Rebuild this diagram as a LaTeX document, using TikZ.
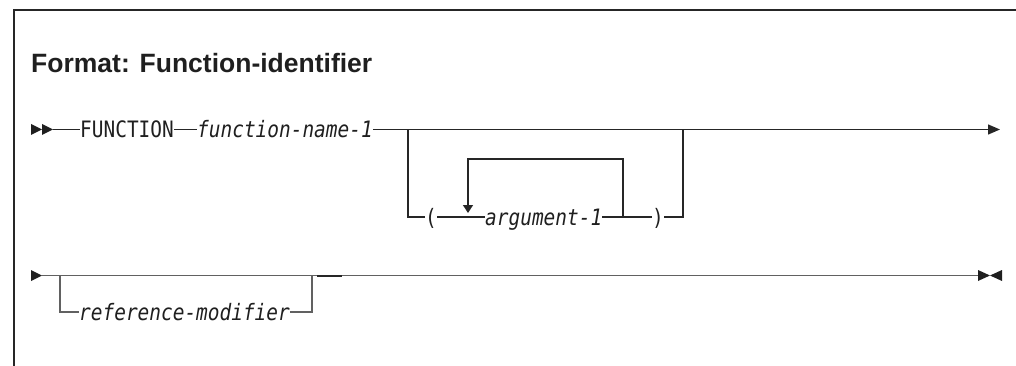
\documentclass[tikz,border=0pt]{standalone}
\usepackage{fontspec}
\setmainfont{Liberation Sans}
\newfontfamily\synfont[FakeStretch=0.86]{DejaVu Sans Mono}
\usetikzlibrary{arrows.meta}
\begin{document}
\begin{tikzpicture}[x=1pt,y=-1pt,
  syn/.style={font=\synfont\fontsize{22.6}{26}\selectfont, inner sep=0pt, anchor=base west, text=black!88},
  synit/.style={syn, font=\synfont\itshape\fontsize{22.6}{26}\selectfont},
  rail/.style={line width=1.3pt, draw=black!85},
  rail2/.style={line width=1.5pt, draw=black!62},
  tip/.style={fill=black!88},
  endtip/.style={-{Triangle[length=12pt,width=10pt]}}]
\useasboundingbox (0,0) rectangle (1016,366);
% frame
\draw[line width=1.3pt, black!85] (14,366) -- (14,10) -- (1016,10);
\node[anchor=base west, inner sep=0pt, text=black!88, font=\bfseries\fontsize{26.5}{30}\selectfont] (title) at (31,73) {Format: Function-identifier};
% ---- line 1
\fill[tip] (31,124) -- (42,129.5) -- (31,135) -- cycle;
\fill[tip] (42,124) -- (53,129.5) -- (42,135) -- cycle;
\coordinate (s1) at (53,129.5);
\coordinate (j1) at (408,129.5);
\coordinate (j2) at (683,129.5);
\coordinate (e1) at (1000,129.5);
\node[syn] (fn) at (80,137.8) {FUNCTION};
\node[synit] (fname) at (197,137.8) {function-name-1};
\draw[rail] (s1) -- (fn.west |- s1);
\draw[rail] (fn.east |- s1) -- (fname.west |- s1);
\draw[rail, endtip] (fname.east |- s1) -- (e1);
% optional argument branch
\coordinate (b1) at (408,217);
\coordinate (b2) at (683,217);
\coordinate (la) at (468,213);
\coordinate (lb) at (623,217);
\node[syn] (lp) at (425,225.3) {(};
\node[synit] (arg) at (485,225.3) {argument-1};
\node[syn] (rp) at (652,225.3) {)};
\draw[rail] (j1) -- (b1) -- (lp.west |- b1);
\draw[rail] (lp.east |- b1) -- (arg.west |- b1);
\draw[rail] (arg.east |- b1) -- (rp.west |- b1);
\draw[rail] (rp.east |- b1) -- (b2) -- (j2);
\draw[rail, -{Triangle[length=8pt,width=10pt]}] (lb) -- (lb |- 0,159) -- (la |- 0,159) -- (la);
% ---- line 2
\fill[tip] (31,270) -- (42,275.5) -- (31,281) -- cycle;
\coordinate (s2) at (42,275.5);
\coordinate (k1) at (60,275.5);
\coordinate (k2) at (312,275.5);
\coordinate (e2) at (978,275.5);
\coordinate (r1) at (60,312);
\coordinate (r2) at (312,312);
\node[synit] (ref) at (79,320.3) {reference-modifier};
\draw[rail2] (s2) -- (e2);
\draw[rail2] (k1) -- (r1) -- (ref.west |- r1);
\draw[rail2] (ref.east |- r2) -- (r2) -- (k2);
\draw[line width=2pt, black!85] (317,275.5) -- (342,275.5);
\fill[tip] (978,270) -- (990,275.5) -- (978,281) -- cycle;
\fill[tip] (1002,270) -- (990,275.5) -- (1002,281) -- cycle;
\end{tikzpicture}
\end{document}
